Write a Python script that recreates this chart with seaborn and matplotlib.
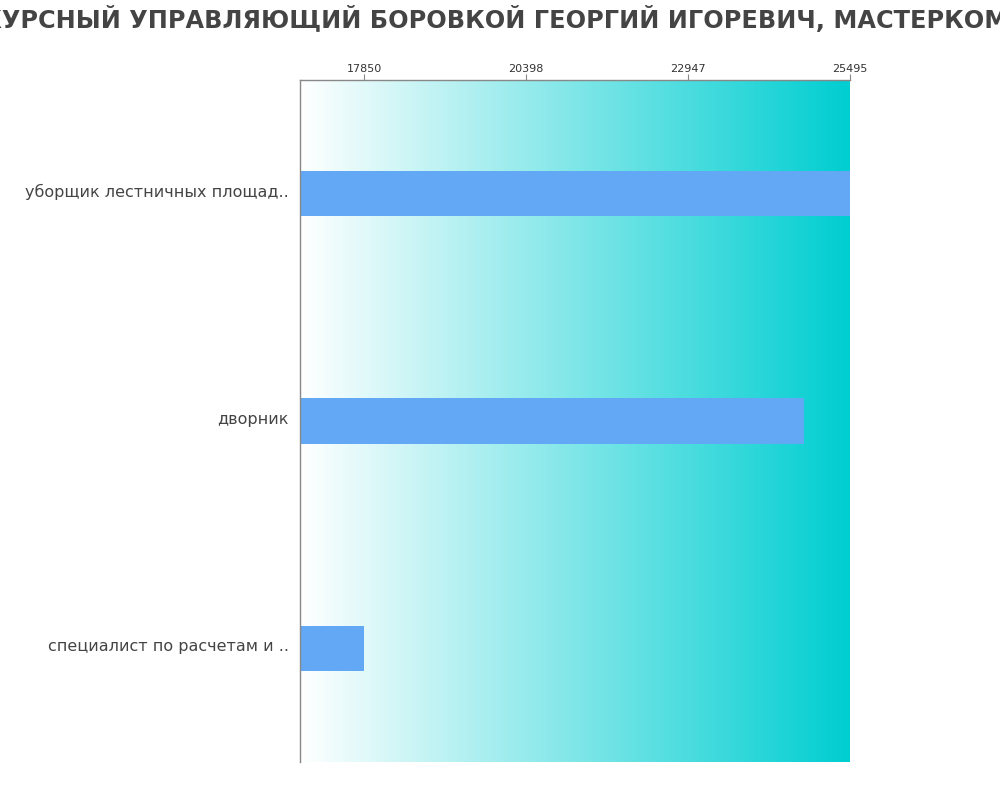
import numpy as np
import pandas as pd
import seaborn as sns
import matplotlib.pyplot as plt
from matplotlib.colors import LinearSegmentedColormap
from matplotlib.transforms import ScaledTranslation

professions = ["уборщик лестничных площад..", "дворник", "специалист по расчетам и .."]
salaries = [25495, 24770, 17850]
tick_values = [17850, 20398, 22947, 25495]
title = "КОНКУРСНЫЙ УПРАВЛЯЮЩИЙ БОРОВКОЙ ГЕОРГИЙ ИГОРЕВИЧ, МАСТЕРКОМ ООО"

df = pd.DataFrame({"profession": professions, "salary": salaries})

sns.set_style("white")
plt.rcParams["font.family"] = ["DejaVu Sans"]

fig = plt.figure(figsize=(10, 8), dpi=100)
ax = fig.add_axes([0.3, 0.0475, 0.55, 0.8525])

x_min, x_max = 16843, 25495

# gradient background
cmap = LinearSegmentedColormap.from_list("bg", ["#ffffff", "#00ced1"])
grad = np.linspace(0, 1, 256).reshape(1, -1)
ax.imshow(grad, cmap=cmap, aspect="auto", extent=[x_min, x_max, 2.5, -0.5], zorder=0)

sns.barplot(data=df, x="salary", y="profession", orient="h", color="#62a8f5",
            width=0.2, saturation=1, linewidth=0, ax=ax, zorder=2)

ax.set_xlim(x_min, x_max)
ax.set_ylim(2.5, -0.5)
ax.set_xlabel("")
ax.set_ylabel("")
ax.xaxis.tick_top()
ax.set_xticks(tick_values)
ax.set_xticklabels([str(v) for v in tick_values])
ax.tick_params(axis="x", labelsize=8, colors="#888888", labelcolor="#333333",
               length=4, width=0.8, direction="out", pad=0.5)
ax.tick_params(axis="y", labelsize=11.5, labelcolor="#444444", length=0, pad=8)

# nudge category labels up a little
shift = ScaledTranslation(0, 0.035, fig.dpi_scale_trans)
for lbl in ax.get_yticklabels():
    lbl.set_transform(lbl.get_transform() + shift)

for side in ["right", "bottom"]:
    ax.spines[side].set_visible(False)
for side in ["top", "left"]:
    ax.spines[side].set_color("#888888")
    ax.spines[side].set_linewidth(1)

fig.suptitle(title, fontsize=17.3, fontweight="bold", color="#444444", y=0.993, va="top")

fig.savefig("out.png", dpi=100)
